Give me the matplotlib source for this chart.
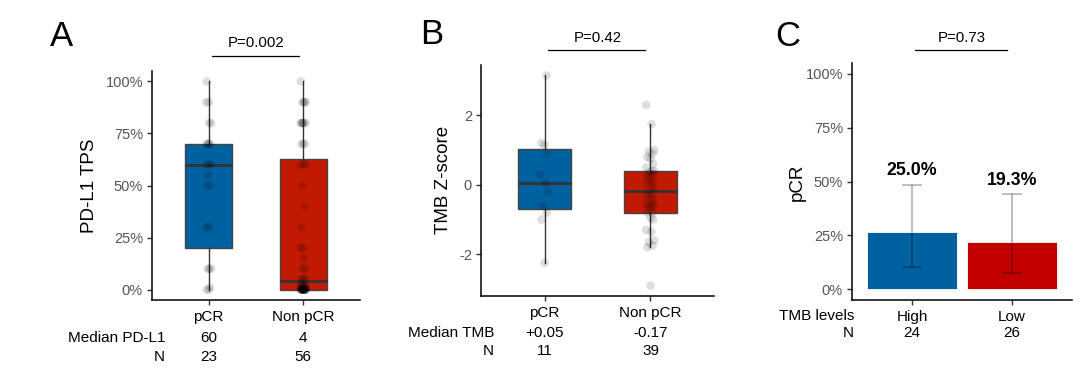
import numpy as np
import matplotlib
matplotlib.use("Agg")
import matplotlib.pyplot as plt

plt.rcParams['font.family'] = ['Liberation Sans', 'DejaVu Sans']

# ---- data ----
groups = ["pCR", "Non pCR"]

pdl1_pcr = [0, 0, 1, 10, 10, 10, 30, 30, 50, 50, 55, 60, 60, 60,
            70, 70, 70, 70, 80, 80, 90, 90, 100]
pdl1_non = [0] * 20 + [1, 1, 1, 1, 2, 2, 2, 3, 5,
            5, 5, 10, 10, 15, 20, 20, 30, 40, 50, 60, 60, 60,
            70, 70, 70, 80, 80, 80, 80, 80, 80, 90, 90, 90, 90, 100]
pdl1_median = ["60", "4"]
pdl1_n = ["23", "56"]

tmb_pcr = [-2.25, -1.0, -0.8, -0.6, -0.2, 0.05, 0.3, 0.9, 1.15, 1.2, 3.15]
tmb_non = [-2.9, -1.8, -1.75, -1.65, -1.6, -1.35, -1.3, -1.0, -0.95, -0.8,
           -0.8, -0.65, -0.6, -0.6, -0.55, -0.45, -0.4, -0.3, -0.25, -0.17,
           -0.1, 0.0, 0.05, 0.1, 0.2, 0.25, 0.3, 0.35, 0.4, 0.4,
           0.5, 0.6, 0.75, 0.8, 0.9, 0.95, 1.0, 1.75, 2.3]
tmb_median = ["+0.05", "-0.17"]
tmb_n = ["11", "39"]

tmb_levels = ["High", "Low"]
pcr_rate = [26.5, 22.0]
pcr_lo = [10.2, 7.5]
pcr_hi = [48.5, 44.0]
pcr_labels = ["25.0%", "19.3%"]
level_n = ["24", "26"]

p_values = ["P=0.002", "P=0.42", "P=0.73"]

blue = "#0061A0"
red_box = "#C21A00"
red_bar = "#C20000"

W, H = 1080, 375
fig = plt.figure(figsize=(W / 100, H / 100), dpi=100)


def add_ax(left, top, right, bottom):
    return fig.add_axes([left / W, 1 - bottom / H, (right - left) / W, (bottom - top) / H])


def fx(x):
    return x / W


def fy(y):
    return 1 - y / H


def style(ax):
    for s in ["top", "right"]:
        ax.spines[s].set_visible(False)
    for s in ["left", "bottom"]:
        ax.spines[s].set_linewidth(1.1)
        ax.spines[s].set_color("black")
    ax.tick_params(axis="both", length=3.5, width=1, color="#333333")
    ax.tick_params(axis="y", labelsize=10.5, labelcolor="#555555", pad=3)
    ax.tick_params(axis="x", labelsize=11, labelcolor="black", pad=4)
    ax.set_xlim(0.4, 2.6)


def pbar(ax, text, dy_line, dy_text):
    h = ax.get_window_extent().height
    yl = 1 + dy_line / h
    yt = 1 + dy_text / h
    ax.plot([1.03, 1.95], [yl, yl], transform=ax.get_xaxis_transform(),
            color="black", lw=0.9, clip_on=False)
    ax.text(1.5, yt, text, transform=ax.get_xaxis_transform(),
            ha="center", va="center", fontsize=10.8, clip_on=False)


def box_panel(ax, data, jit):
    bp = ax.boxplot(data, positions=[1, 2], widths=0.5, whis=1.5,
                    showfliers=False, patch_artist=True,
                    medianprops=dict(color="#333333", lw=2),
                    whiskerprops=dict(color="#333333", lw=1),
                    capprops=dict(lw=0),
                    boxprops=dict(edgecolor="#444444", lw=1))
    for patch, c in zip(bp["boxes"], [blue, red_box]):
        patch.set_facecolor(c)
    for i, vals in enumerate(data):
        offs = np.resize(jit, len(vals))
        ax.scatter(i + 1 + offs, vals, s=38, color="black", alpha=0.13,
                   edgecolors="none", zorder=3)


def rows(ax, labels, values, ys, right_x):
    for lab, vals, y in zip(labels, values, ys):
        fig.text(fx(right_x), fy(y), lab, ha="right", va="center", fontsize=11)
        for i, v in enumerate(vals):
            x_disp = ax.transData.transform((i + 1, 0))[0]
            fig.text(x_disp / W, fy(y), v, ha="center", va="center", fontsize=11)


# ---- panel A ----
axA = add_ax(152, 71, 360, 300)
box_panel(axA, [pdl1_pcr, pdl1_non], [0.0, -0.02, 0.015, -0.01, 0.025, 0.005, -0.025])
axA.set_ylim(-5, 105)
axA.set_yticks([0, 25, 50, 75, 100])
axA.set_yticklabels(["0%", "25%", "50%", "75%", "100%"])
axA.set_xticks([1, 2])
axA.set_xticklabels(groups)
style(axA)
fig.text(fx(90), fy(186), "PD-L1 TPS", rotation=90, ha="center", va="center", fontsize=13.5)
fig.text(fx(61), fy(37), "A", ha="center", va="center", fontsize=25)
pbar(axA, p_values[0], 15, 28)
rows(axA, ["Median PD-L1", "N"], [pdl1_median, pdl1_n], [338, 357], 165)

# ---- panel B ----
axB = add_ax(481, 65, 714, 296)
box_panel(axB, [tmb_pcr, tmb_non], [0.0, -0.03, 0.02, -0.015, 0.035, 0.01, -0.04, 0.025])
axB.set_ylim(-3.2, 3.45)
axB.set_yticks([-2, 0, 2])
axB.set_yticklabels(["-2", "0", "2"])
axB.set_xticks([1, 2])
axB.set_xticklabels(groups)
style(axB)
fig.text(fx(443), fy(180), "TMB Z-score", rotation=90, ha="center", va="center", fontsize=13.5)
fig.text(fx(432), fy(35), "B", ha="center", va="center", fontsize=25)
pbar(axB, p_values[1], 15, 27)
rows(axB, ["Median TMB", "N"], [tmb_median, tmb_n], [333, 351], 494)

# ---- panel C ----
axC = add_ax(852, 63, 1072, 300)
x = np.arange(1, 3)
axC.bar(x, pcr_rate, width=0.9, color=[blue, red_bar], edgecolor="white", lw=0.6)
yerr = [np.array(pcr_rate) - np.array(pcr_lo), np.array(pcr_hi) - np.array(pcr_rate)]
axC.errorbar(x, pcr_rate, yerr=yerr, fmt="none", ecolor=(0, 0, 0, 0.3),
             elinewidth=1.2, capsize=7.5, capthick=1.2)
for xi, hi, lab in zip(x, pcr_hi, pcr_labels):
    axC.text(xi, hi + 2.5, lab, ha="center", va="bottom", fontsize=12.8, fontweight="bold")
axC.set_ylim(-5, 105)
axC.set_yticks([0, 25, 50, 75, 100])
axC.set_yticklabels(["0%", "25%", "50%", "75%", "100%"])
axC.set_xticks(x)
axC.set_xticklabels(tmb_levels)
style(axC)
fig.text(fx(797), fy(182), "pCR", rotation=90, ha="center", va="center", fontsize=13.5)
fig.text(fx(788), fy(37), "C", ha="center", va="center", fontsize=25)
pbar(axC, p_values[2], 13, 25)
fig.text(fx(854), fy(316), "TMB levels", ha="right", va="center", fontsize=11)
rows(axC, ["N"], [level_n], [333], 854)

fig.savefig("out.png", dpi=100)
